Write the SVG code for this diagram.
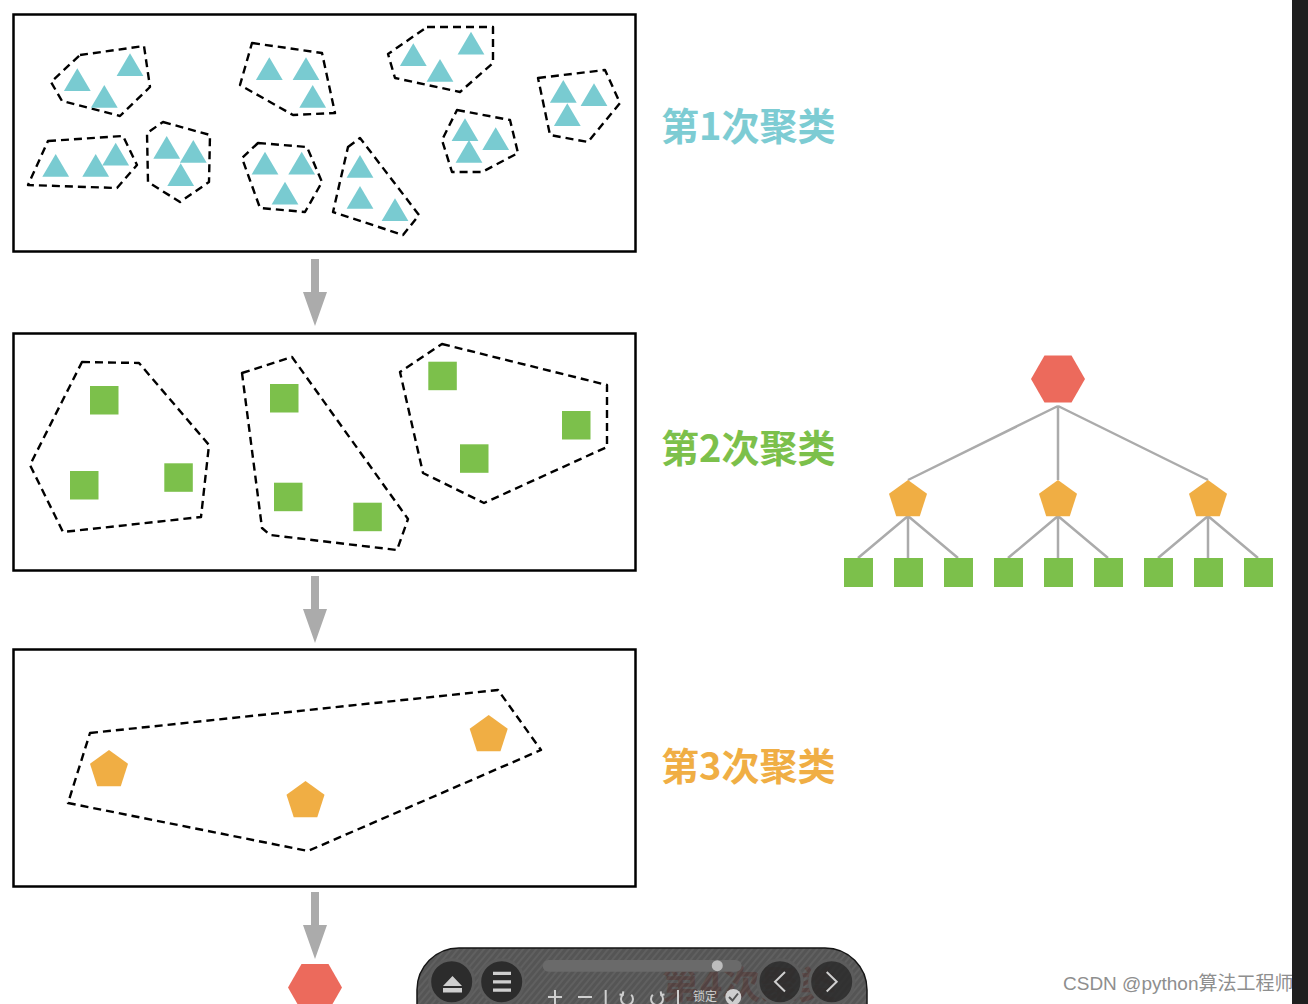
<svg xmlns="http://www.w3.org/2000/svg" width="1308" height="1004" viewBox="0 0 1308 1004">
<style>
.box{fill:#fff;stroke:#000;stroke-width:2.5}
.hull{fill:none;stroke:#000;stroke-width:2.4;stroke-dasharray:8 5;stroke-linejoin:round}
.tri{fill:#79CBD1}
.sq{fill:#7CC04B}
.pent{fill:#F0AE44}
.hex{fill:#EC6A5C}
.arrow{fill:#ABABAB}
.edge{stroke:#ABABAB;stroke-width:2.5;fill:none}
.lbl{font-family:"Noto Sans CJK SC","Noto Sans",sans-serif;font-weight:bold;font-size:38px}
.ico{fill:#cfcfcf}
.icoS{stroke:#cfcfcf;fill:none;stroke-width:2}
.btn{fill:#2c2c2c;stroke:#5c5c5c;stroke-width:3}
</style>
<defs>
<path id="t" d="M0,0 L13.4,22.8 L-13.4,22.8 Z"/>
<path id="p" d="M0,-20 L19.02,-6.18 L11.76,16.18 L-11.76,16.18 L-19.02,-6.18 Z"/>
<path id="h" d="M-27,0 L-13.5,-23.5 L13.5,-23.5 L27,0 L13.5,23.5 L-13.5,23.5 Z"/>
<path id="a" d="M311,0 H319 V33 H327 L315,67 L303,33 H311 Z"/>
<pattern id="stripes" width="5" height="5" patternUnits="userSpaceOnUse" patternTransform="rotate(40)">
<rect width="5" height="5" fill="#3d3d3d"/>
<rect width="2" height="5" fill="#4a4a4a"/>
</pattern>
</defs>
<rect width="1308" height="1004" fill="#fff"/>

<g id="box1">
<rect class="box" x="13.5" y="14.5" width="622" height="237"/>
<g id="c1a"><polygon class="hull" points="80,55 144,46 150,87 120,116 62,101 51,82"/>
<use href="#t" class="tri" x="77.3" y="68.3"/><use href="#t" class="tri" x="130" y="53.3"/><use href="#t" class="tri" x="104.3" y="85"/></g>
<g id="c1b"><polygon class="hull" points="48,141 123,136 137,165 117,188 28,185"/>
<use href="#t" class="tri" x="55.7" y="154"/><use href="#t" class="tri" x="95.7" y="154"/><use href="#t" class="tri" x="115.7" y="142.7"/></g>
<g id="c1c"><polygon class="hull" points="163,122 210,135 209,182 180,202 148,182 147,133"/>
<use href="#t" class="tri" x="166.7" y="136"/><use href="#t" class="tri" x="193.3" y="140"/><use href="#t" class="tri" x="180.7" y="163.3"/></g>
<g id="c1d"><polygon class="hull" points="252,43 322,53 335,113 293,115 240,85"/>
<use href="#t" class="tri" x="269.3" y="57.3"/><use href="#t" class="tri" x="306" y="57.3"/><use href="#t" class="tri" x="312.7" y="85"/></g>
<g id="c1e"><polygon class="hull" points="258,143 307,147 322,182 305,212 260,208 242,158"/>
<use href="#t" class="tri" x="265" y="151.7"/><use href="#t" class="tri" x="301.7" y="151.7"/><use href="#t" class="tri" x="285" y="181.7"/></g>
<g id="c1f"><polygon class="hull" points="427,27 493,27 493,63 460,92 395,78 388,54"/>
<use href="#t" class="tri" x="413.3" y="43.3"/><use href="#t" class="tri" x="471" y="31.7"/><use href="#t" class="tri" x="440" y="59"/></g>
<g id="c1g"><polygon class="hull" points="348,147 360,138 419,215 403,235 333,212"/>
<use href="#t" class="tri" x="360" y="155"/><use href="#t" class="tri" x="360" y="186"/><use href="#t" class="tri" x="395" y="198.3"/></g>
<g id="c1h"><polygon class="hull" points="457,110 510,120 518,153 482,172 452,172 442,140"/>
<use href="#t" class="tri" x="465" y="118.3"/><use href="#t" class="tri" x="495.7" y="127.3"/><use href="#t" class="tri" x="469" y="140"/></g>
<g id="c1i"><polygon class="hull" points="538,78 605,70 620,103 588,142 550,135"/>
<use href="#t" class="tri" x="563.3" y="80"/><use href="#t" class="tri" x="594" y="83.3"/><use href="#t" class="tri" x="567.3" y="103.3"/></g>
</g>

<g id="box2">
<rect class="box" x="13.5" y="333.5" width="622" height="237"/>
<g id="c2a"><polygon class="hull" points="82,362 139,363 209,445 201,517 63,532 30,465"/>
<rect class="sq" x="90" y="386" width="28.5" height="28.5"/><rect class="sq" x="70" y="471" width="28.5" height="28.5"/><rect class="sq" x="164.3" y="463.3" width="28.5" height="28.5"/></g>
<g id="c2b"><polygon class="hull" points="242,373 292,357 408,519 397,550 270,535 262,528"/>
<rect class="sq" x="270" y="384" width="28.5" height="28.5"/><rect class="sq" x="274" y="482.7" width="28.5" height="28.5"/><rect class="sq" x="353.3" y="502.7" width="28.5" height="28.5"/></g>
<g id="c2c"><polygon class="hull" points="442,344 607,385 607,447 484,503 423,473 400,372"/>
<rect class="sq" x="428.3" y="361.7" width="28.5" height="28.5"/><rect class="sq" x="460" y="444.3" width="28.5" height="28.5"/><rect class="sq" x="562" y="411" width="28.5" height="28.5"/></g>
</g>

<g id="box3">
<rect class="box" x="13.5" y="649.5" width="622" height="237"/>
<polygon class="hull" points="90,733 498,690 541,750 308,851 68,803"/>
<use href="#p" class="pent" x="109" y="770"/>
<use href="#p" class="pent" x="305.5" y="801"/>
<use href="#p" class="pent" x="488.7" y="735"/>
</g>

<g id="label1"><text class="lbl" x="661" y="140" fill="#7DCCD3">第1次聚类</text></g>
<g id="label2"><text class="lbl" x="661" y="462" fill="#7CC04B">第2次聚类</text></g>
<g id="label3"><text class="lbl" x="661" y="780" fill="#F0AE44">第3次聚类</text></g>

<g id="final"><use href="#h" class="hex" x="315" y="987.5"/></g>

<g id="connectors">
<use href="#a" class="arrow" y="259"/>
<use href="#a" class="arrow" y="576"/>
<use href="#a" class="arrow" y="892"/>
<path class="edge" d="M1058,406 L908,480 M1058,406 L1058,480 M1058,406 L1208,480"/>
<path class="edge" d="M908,516 L858,558 M908,516 L908,558 M908,516 L958,558 M1058,516 L1008,558 M1058,516 L1058,558 M1058,516 L1108,558 M1208,516 L1158,558 M1208,516 L1208,558 M1208,516 L1258,558"/>
</g>

<g id="tree">
<g id="root"><use href="#h" class="hex" x="1058" y="379"/></g>
<g id="mid1"><use href="#p" class="pent" x="908" y="500"/></g>
<g id="mid2"><use href="#p" class="pent" x="1058" y="500"/></g>
<g id="mid3"><use href="#p" class="pent" x="1208" y="500"/></g>
<g id="leaves">
<rect class="sq" x="844" y="558" width="29" height="29"/>
<rect class="sq" x="894" y="558" width="29" height="29"/>
<rect class="sq" x="944" y="558" width="29" height="29"/>
<rect class="sq" x="994" y="558" width="29" height="29"/>
<rect class="sq" x="1044" y="558" width="29" height="29"/>
<rect class="sq" x="1094" y="558" width="29" height="29"/>
<rect class="sq" x="1144" y="558" width="29" height="29"/>
<rect class="sq" x="1194" y="558" width="29" height="29"/>
<rect class="sq" x="1244" y="558" width="29" height="29"/>
</g>
</g>

<g id="label4"><text class="lbl" x="662" y="998" fill="#EC6A5C">第4次聚类</text></g>

<g id="toolbar">
<rect x="417" y="948" width="450" height="100" rx="42" fill="url(#stripes)" fill-opacity="0.88" stroke="#151515" stroke-width="1.5"/>
<rect x="542.7" y="960" width="199" height="11.7" rx="5.8" fill="#6a6a6a"/>
<circle cx="717.3" cy="965.7" r="5.5" fill="#bdbdbd"/>
<circle class="btn" cx="451.7" cy="981.7" r="22"/>
<path class="ico" d="M452.5,976 L462,986 L443,986 Z M443,988 H462 V992.5 H443 Z"/>
<circle class="btn" cx="501.7" cy="981.7" r="22"/>
<path class="ico" d="M493,971.8 H511 V975 H493 Z M493,980.2 H511 V983.4 H493 Z M493,988.5 H511 V991.7 H493 Z"/>
<circle class="btn" cx="780" cy="981.7" r="22" fill-opacity="0.85"/>
<path class="icoS" stroke-width="3.5" d="M785,972 L775,981.7 L785,991.5"/>
<circle class="btn" cx="831.7" cy="981.7" r="22" fill-opacity="0.85"/>
<path class="icoS" stroke-width="3.5" d="M826.7,972 L836.7,981.7 L826.7,991.5"/>
<path class="icoS" d="M555,990 V1004 M548,997 H562 M578,997 H592 M605.7,990 V1004 M678,990 V1004"/>
<path class="icoS" d="M622.8,994.8 A6,6 0 1 0 631.2,994.8 M619.5,994.5 L622.8,994.8 L623.3,991.3"/>
<path class="icoS" d="M661.2,994.8 A6,6 0 1 1 652.8,994.8 M664.5,994.5 L661.2,994.8 L660.7,991.3"/>
<text x="693" y="1001" font-family="Noto Sans CJK SC,sans-serif" font-size="12" fill="#cfcfcf">锁定</text>
<circle cx="733.3" cy="997" r="8" fill="#cfcfcf"/>
<path d="M729,997 L732.5,1000.5 L738,993.5" stroke="#555" stroke-width="2" fill="none"/>
</g>

<text id="watermark" x="1063" y="990" font-family="Liberation Sans,Noto Sans CJK SC,sans-serif" font-size="19" fill="#8e8e8e">CSDN @python算法工程师</text>
<rect id="sidebar" x="1292" y="0" width="16" height="1004" fill="#1f1f1f"/>
</svg>
